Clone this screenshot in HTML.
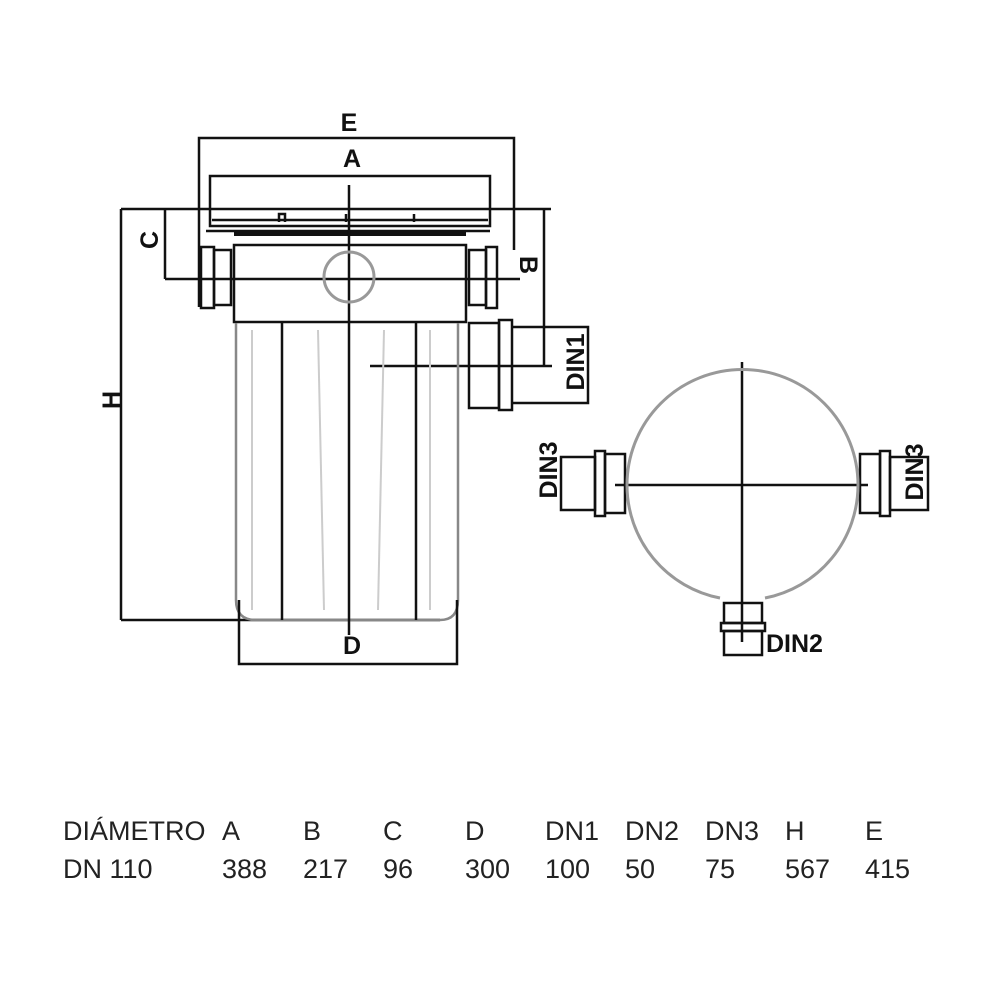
<!DOCTYPE html>
<html><head><meta charset="utf-8"><style>
html,body{margin:0;padding:0;background:#fff;}
svg{display:block;}
text{font-family:"Liberation Sans",sans-serif;}
.b{font-weight:bold;font-size:25px;fill:#111;}
.t{font-size:27px;fill:#222;}
</style></head><body>
<svg width="1000" height="1000" viewBox="0 0 1000 1000" xmlns="http://www.w3.org/2000/svg">
<g fill="none" stroke="#111" stroke-width="2.5">
<polyline points="199,307 199,138 514,138 514,250"/>
<rect x="210" y="176" width="280" height="50"/>
<line x1="212" y1="220" x2="488" y2="220"/>
<line x1="206" y1="231" x2="490" y2="231"/>
<line x1="234" y1="234" x2="466" y2="234" stroke-width="4"/>
<path d="M279,222 v-8 h6 v8 M346,222 v-8 M414,222 v-8"/>
<line x1="121" y1="209" x2="551" y2="209"/>
<line x1="121" y1="209" x2="121" y2="620"/>
<line x1="121" y1="620" x2="440" y2="620"/>
<line x1="165" y1="209" x2="165" y2="279"/>
<line x1="165" y1="279" x2="520" y2="279"/>
<line x1="544" y1="209" x2="544" y2="366"/>
<line x1="370" y1="366" x2="552" y2="366"/>
<rect x="234" y="245" width="232" height="77"/>
<rect x="201" y="247" width="13" height="61"/>
<rect x="214" y="250" width="17" height="55"/>
<rect x="469" y="250" width="17" height="55"/>
<rect x="486" y="247" width="11" height="61"/>
<path d="M236,323 V600 Q236,620 256,620 H440 Q458,620 458,600 V323" stroke="#888"/>
<line x1="282" y1="323" x2="282" y2="620"/>
<line x1="416" y1="323" x2="416" y2="620"/>
<polyline points="239,600 239,664 457,664 457,600"/>
<line x1="349" y1="185" x2="349" y2="635"/>
<rect x="469" y="323" width="30" height="85"/>
<rect x="499" y="320" width="13" height="90"/>
<polyline points="512,327 588,327 588,403 512,403"/>
<line x1="615" y1="485" x2="868" y2="485"/>
<line x1="742" y1="362" x2="742" y2="642"/>
<rect x="561" y="457" width="34" height="53"/>
<rect x="595" y="451" width="10" height="65"/>
<rect x="605" y="454" width="20" height="59"/>
<rect x="860" y="454" width="20" height="59"/>
<rect x="880" y="451" width="10" height="65"/>
<rect x="890" y="457" width="38" height="53"/>
<rect x="724" y="603" width="38" height="20"/>
<rect x="721" y="623" width="44" height="8"/>
<rect x="724" y="631" width="38" height="24"/>
</g>
<circle cx="349" cy="277" r="25" fill="none" stroke="#999" stroke-width="3"/>
<path d="M627,485 A115,115 0 0 1 858,485 A115,115 0 0 1 765,598 M720,598 A115,115 0 0 1 627,485" fill="none" stroke="#999" stroke-width="3"/>
<g fill="none" stroke="#ccc" stroke-width="2">
<line x1="252" y1="330" x2="252" y2="610"/><line x1="318" y1="330" x2="324" y2="610"/>
<line x1="384" y1="330" x2="378" y2="610"/><line x1="430" y1="330" x2="430" y2="610"/>
</g>
<text class="b" x="349" y="131" text-anchor="middle">E</text>
<text class="b" x="352" y="167" text-anchor="middle">A</text>
<text class="b" x="352" y="654" text-anchor="middle">D</text>
<text class="b" transform="translate(158,240) rotate(-90)" text-anchor="middle">C</text>
<text class="b" transform="translate(120,400) rotate(-90)" text-anchor="middle">H</text>
<text class="b" transform="translate(520,265) rotate(90)" text-anchor="middle">B</text>
<text class="b" transform="translate(584,362) rotate(-90)" text-anchor="middle">DIN1</text>
<text class="b" transform="translate(557,470) rotate(-90)" text-anchor="middle">DIN3</text>
<text class="b" transform="translate(923,472) rotate(-90)" text-anchor="middle">DIN3</text>
<text class="b" x="766" y="652">DIN2</text>
<text class="t" x="63" y="840">DIÁMETRO</text><text class="t" x="63" y="878">DN 110</text>
<text class="t" x="222" y="840">A</text><text class="t" x="222" y="878">388</text>
<text class="t" x="303" y="840">B</text><text class="t" x="303" y="878">217</text>
<text class="t" x="383" y="840">C</text><text class="t" x="383" y="878">96</text>
<text class="t" x="465" y="840">D</text><text class="t" x="465" y="878">300</text>
<text class="t" x="545" y="840">DN1</text><text class="t" x="545" y="878">100</text>
<text class="t" x="625" y="840">DN2</text><text class="t" x="625" y="878">50</text>
<text class="t" x="705" y="840">DN3</text><text class="t" x="705" y="878">75</text>
<text class="t" x="785" y="840">H</text><text class="t" x="785" y="878">567</text>
<text class="t" x="865" y="840">E</text><text class="t" x="865" y="878">415</text>
</svg>
</body></html>
